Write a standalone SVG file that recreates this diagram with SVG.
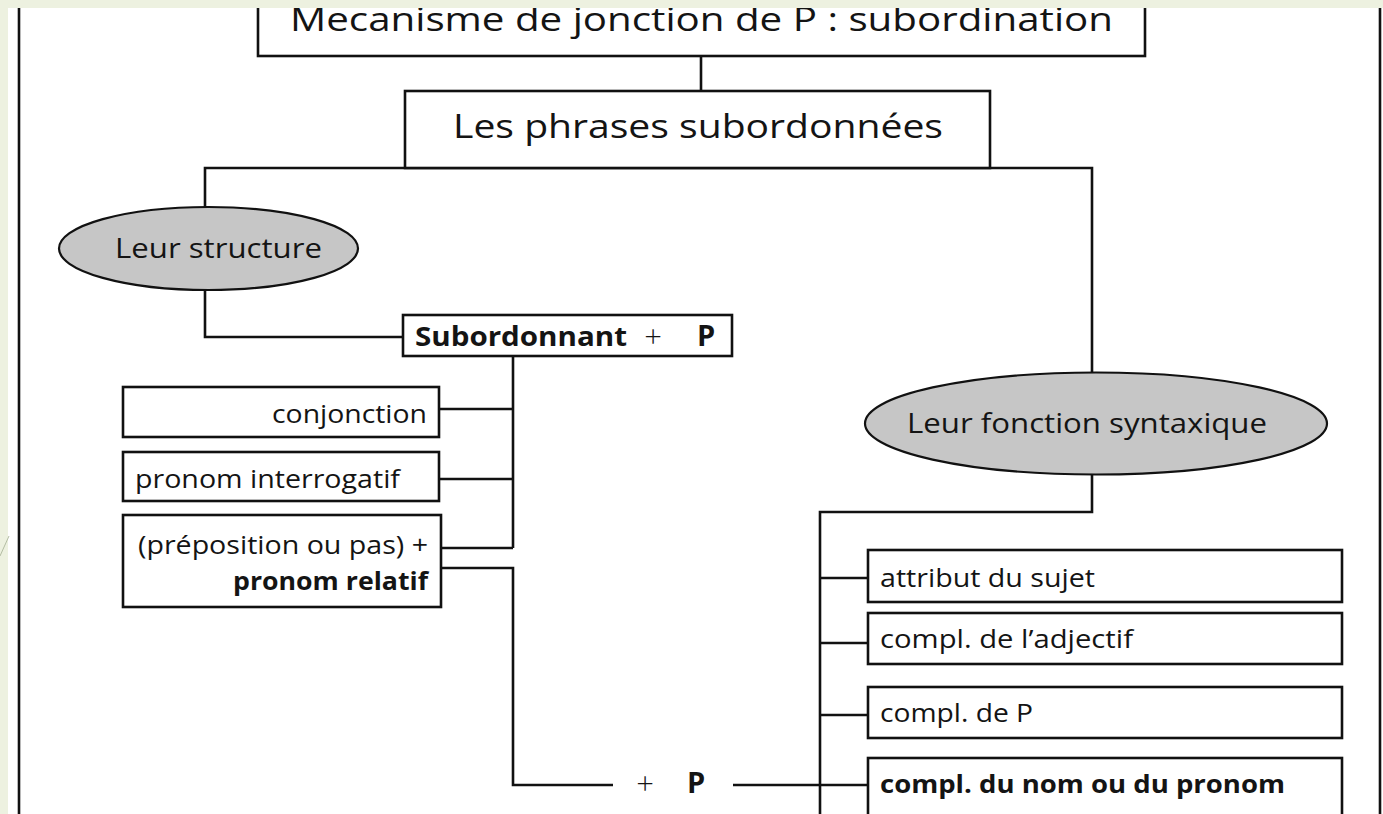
<svg xmlns="http://www.w3.org/2000/svg" width="1383" height="814" viewBox="0 0 1383 814">
<style>
  .box{fill:#fff;stroke:#111;stroke-width:2.6}
  .ell{fill:#c6c6c6;stroke:#111;stroke-width:2.2}
  .ln{fill:none;stroke:#111;stroke-width:2.6}
  text{font-family:"Open Sans","Noto Sans","Liberation Sans",sans-serif;fill:#141414}
  .t26{font-size:25px}
  .b{font-weight:bold}
  .plus{font-size:31px;font-weight:300}
  .pp{font-size:29px;font-weight:bold}
</style>
<rect x="0" y="0" width="1383" height="814" fill="#fff"/>
<g id="frame">
  <line class="ln" x1="19" y1="8" x2="19" y2="814"/>
  <line class="ln" x1="1380" y1="8" x2="1380" y2="814"/>
</g>
<g id="connectors">
  <line class="ln" x1="701" y1="56" x2="701" y2="91"/>
  <polyline class="ln" points="205,208 205,168 1092,168 1092,373"/>
  <polyline class="ln" points="205,290 205,337 403,337"/>
  <line class="ln" x1="513" y1="356" x2="513" y2="548"/>
  <line class="ln" x1="439" y1="409" x2="513" y2="409"/>
  <line class="ln" x1="439" y1="479" x2="513" y2="479"/>
  <line class="ln" x1="441" y1="548" x2="513" y2="548"/>
  <polyline class="ln" points="441,568 513,568 513,785 613,785"/>
  <line class="ln" x1="733" y1="785" x2="868" y2="785"/>
  <polyline class="ln" points="1092,475 1092,512 820,512 820,814"/>
  <line class="ln" x1="820" y1="578" x2="868" y2="578"/>
  <line class="ln" x1="820" y1="643" x2="868" y2="643"/>
  <line class="ln" x1="820" y1="715" x2="868" y2="715"/>
  <text x="645" y="795" text-anchor="middle" class="plus">+</text>
  <text x="696" y="793" text-anchor="middle" class="pp">P</text>
</g>
<g id="title">
  <rect class="box" x="258" y="-10" width="887" height="66"/>
  <text x="290" y="31" style="font-size:33px" textLength="823" lengthAdjust="spacingAndGlyphs">Mecanisme de jonction de P : subordination</text>
</g>
<g id="phrases">
  <rect class="box" x="405" y="91" width="585" height="77"/>
  <text x="453" y="138" style="font-size:33px" textLength="490" lengthAdjust="spacingAndGlyphs">Les phrases subordonnées</text>
</g>
<g id="structure">
  <ellipse class="ell" cx="208.5" cy="248.5" rx="149.5" ry="41.5"/>
  <text x="115" y="258" style="font-size:27px" textLength="207" lengthAdjust="spacingAndGlyphs">Leur structure</text>
</g>
<g id="subordonnant">
  <rect class="box" x="403" y="315" width="329" height="41"/>
  <text x="415" y="346" class="b" style="font-size:26px" textLength="212" lengthAdjust="spacingAndGlyphs">Subordonnant</text>
  <text x="653" y="348" text-anchor="middle" class="plus">+</text>
  <text x="706" y="346" text-anchor="middle" class="pp">P</text>
</g>
<g id="conjonction">
  <rect class="box" x="123" y="387" width="316" height="50"/>
  <text x="272" y="423" class="t26" textLength="155" lengthAdjust="spacingAndGlyphs">conjonction</text>
</g>
<g id="interrogatif">
  <rect class="box" x="123" y="452" width="316" height="49"/>
  <text x="135" y="488" class="t26" textLength="265" lengthAdjust="spacingAndGlyphs">pronom interrogatif</text>
</g>
<g id="relatif">
  <rect class="box" x="123" y="515" width="318" height="92"/>
  <text x="138" y="554" class="t26" textLength="290" lengthAdjust="spacingAndGlyphs">(préposition ou pas) +</text>
  <text x="233" y="590" class="t26 b" textLength="195" lengthAdjust="spacingAndGlyphs">pronom relatif</text>
</g>
<g id="fonction">
  <ellipse class="ell" cx="1096" cy="423.5" rx="231" ry="51"/>
  <text x="907" y="433" style="font-size:27px" textLength="360" lengthAdjust="spacingAndGlyphs">Leur fonction syntaxique</text>
</g>
<g id="attribut">
  <rect class="box" x="868" y="550" width="474" height="52"/>
  <text x="880" y="587" class="t26" textLength="215" lengthAdjust="spacingAndGlyphs">attribut du sujet</text>
</g>
<g id="adjectif">
  <rect class="box" x="868" y="613" width="474" height="51"/>
  <text x="880" y="648" class="t26" textLength="253" lengthAdjust="spacingAndGlyphs">compl. de l’adjectif</text>
</g>
<g id="complP">
  <rect class="box" x="868" y="687" width="474" height="51"/>
  <text x="880" y="722" class="t26" textLength="153" lengthAdjust="spacingAndGlyphs">compl. de P</text>
</g>
<g id="nom">
  <rect class="box" x="868" y="758" width="474" height="70"/>
  <text x="880" y="793" class="t26 b" textLength="405" lengthAdjust="spacingAndGlyphs">compl. du nom ou du pronom</text>
</g>
<g id="slide-bg">
  <rect x="0" y="0" width="1383" height="8" fill="#edf1e0"/>
  <rect x="0" y="0" width="8" height="814" fill="#edf1e0"/>
  <line x1="9" y1="536" x2="0" y2="556" stroke="#b3bca3" stroke-width="1"/>
</g>
</svg>
